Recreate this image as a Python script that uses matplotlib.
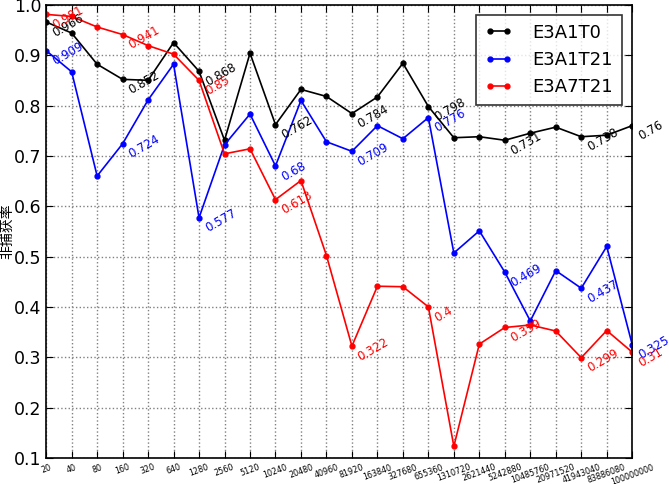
import numpy as np
import matplotlib
matplotlib.use('Agg')
import matplotlib.pyplot as plt

# x categories (data sizes)
sizes = ['20', '40', '80', '160', '320', '640', '1280', '2560', '5120', '10240',
         '20480', '40960', '81920', '163840', '327680', '655360', '1310720',
         '2621440', '5242880', '10485760', '20971520', '41943040', '83886080',
         '100000000']

e3a1t0 = [0.966, 0.944, 0.882, 0.852, 0.850, 0.925, 0.868, 0.731, 0.904, 0.762,
          0.832, 0.818, 0.784, 0.817, 0.884, 0.798, 0.736, 0.738, 0.731, 0.745,
          0.757, 0.738, 0.741, 0.76]
e3a1t21 = [0.909, 0.867, 0.660, 0.724, 0.811, 0.882, 0.577, 0.722, 0.783, 0.68,
           0.810, 0.728, 0.709, 0.760, 0.734, 0.776, 0.507, 0.551, 0.469, 0.372,
           0.472, 0.437, 0.520, 0.325]
e3a7t21 = [0.981, 0.977, 0.956, 0.941, 0.919, 0.902, 0.85, 0.704, 0.714, 0.613,
           0.651, 0.502, 0.322, 0.441, 0.440, 0.4, 0.123, 0.326, 0.359, 0.364,
           0.352, 0.299, 0.353, 0.31]

series = [('E3A1T0', e3a1t0, 'k'), ('E3A1T21', e3a1t21, 'b'), ('E3A7T21', e3a7t21, 'r')]
label_idx = [0, 3, 6, 9, 12, 15, 18, 21, 23]

x = np.arange(len(sizes))

fig = plt.figure(figsize=(6.69, 4.84), dpi=100)
ax = fig.add_axes([0.069, 0.054, 0.876, 0.936])

for name, vals, c in series:
    ax.plot(x, vals, color=c, marker='.', markersize=7, linewidth=1.2, label=name)
    for i in label_idx:
        ax.text(x[i] + 0.15, vals[i] - 0.012, str(vals[i]), color=c, fontsize=8.5,
                rotation=30, ha='left', va='top', rotation_mode='anchor')

ax.set_xlim(0, len(sizes) - 1)
ax.set_ylim(0.1, 1.0)
ax.set_xticks(x)
ax.set_xticklabels(sizes, rotation=20, fontsize=5.8)
ax.set_yticks(np.arange(0.1, 1.01, 0.1))
ax.set_yticklabels(['%.1f' % v for v in np.arange(0.1, 1.01, 0.1)], fontsize=12.5)
ax.tick_params(direction='in', length=5, top=True, right=True)
ax.grid(True, linestyle=':', color='gray', linewidth=1)
for s in ax.spines.values():
    s.set_linewidth(1.2)
ax.set_ylabel('非捕获率', fontsize=10, family=['Noto Sans CJK SC', 'DejaVu Sans'], labelpad=0)

leg = ax.legend(loc='upper right', fontsize=13, numpoints=2, fancybox=False,
                handlelength=1.55, handletextpad=1.1, borderpad=0.5,
                labelspacing=0.5, borderaxespad=0.55)
leg.get_frame().set_edgecolor('k')
leg.get_frame().set_linewidth(1.2)

fig.savefig('out.png', dpi=100)
